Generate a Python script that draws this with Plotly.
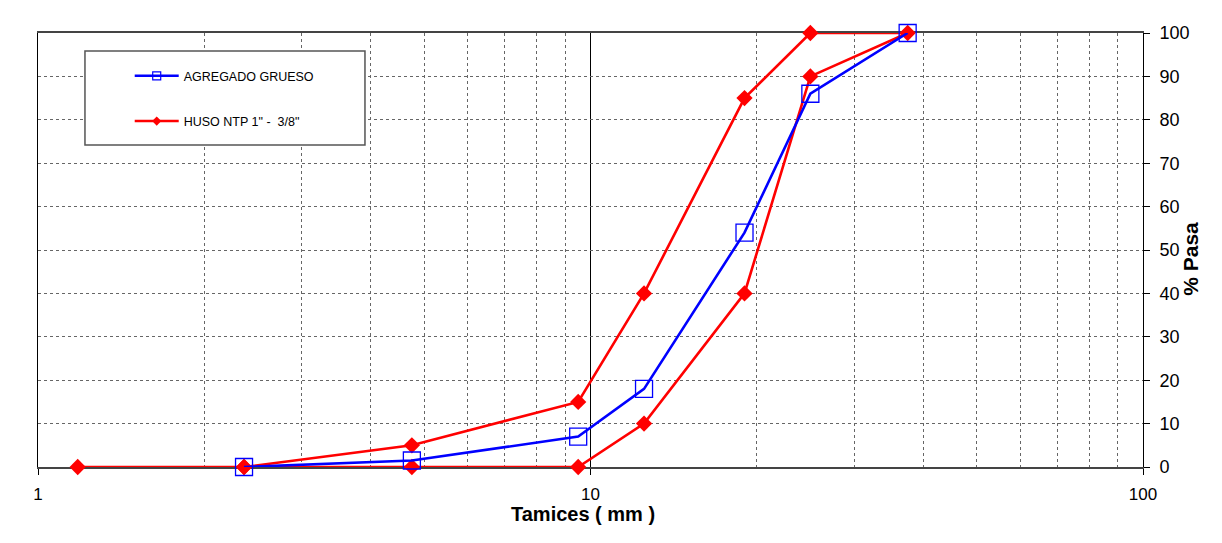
import plotly.graph_objects as go

# Tamaños de tamiz (mm) y porcentajes que pasan
tamiz_agregado = [2.36, 4.75, 9.5, 12.5, 19.0, 25.0, 37.5]
pasa_agregado = [0, 1.5, 7, 18, 54, 86, 100]

# Huso NTP 1" - 3/8": límite inferior seguido del límite superior
tamiz_huso = [1.18, 2.36, 4.75, 9.5, 12.5, 19.0, 25.0, 37.5, 25.0, 19.0, 12.5, 9.5, 4.75, 2.36]
pasa_huso = [0, 0, 0, 0, 10, 40, 90, 100, 100, 85, 40, 15, 5, 0]

x_major = [1, 10, 100]
x_minor = [2, 3, 4, 5, 6, 7, 8, 9, 20, 30, 40, 50, 60, 70, 80, 90]
y_ticks = list(range(0, 101, 10))

nombre_agregado = "AGREGADO GRUESO"
nombre_huso = 'HUSO NTP 1" -  3/8"'

BLUE = "#0000FF"
RED = "#FF0000"

fig = go.Figure()

fig.add_trace(go.Scatter(
    x=tamiz_huso, y=pasa_huso, mode="lines+markers",
    line=dict(color=RED, width=2.6),
    marker=dict(symbol="diamond", size=12.5, color=RED),
    cliponaxis=False, showlegend=False,
))
fig.add_trace(go.Scatter(
    x=tamiz_agregado, y=pasa_agregado, mode="lines+markers",
    line=dict(color=BLUE, width=2.6),
    marker=dict(symbol="square-open", size=17, color=BLUE, line=dict(width=1.3)),
    cliponaxis=False, showlegend=False,
))

# Entradas de leyenda con marcadores pequeños
fig.add_trace(go.Scatter(
    x=[None], y=[None], mode="lines+markers", name=nombre_agregado,
    line=dict(color=BLUE, width=2.5),
    marker=dict(symbol="square-open", size=8, color=BLUE, line=dict(width=1.2)),
    legendgroup="a",
))
fig.add_trace(go.Scatter(
    x=[None], y=[None], mode="lines+markers", name=nombre_huso,
    line=dict(color=RED, width=2.5),
    marker=dict(symbol="diamond", size=7, color=RED),
    legendgroup="b",
))

# Marco de la leyenda
fig.add_shape(
    type="rect", xref="paper", yref="paper",
    x0=0.0425, x1=0.2959, y0=0.742, y1=0.9585,
    line=dict(color="#555555", width=1.5), fillcolor="white", layer="above",
)

# Títulos de los ejes
fig.add_annotation(
    text="<b>Tamices ( mm )</b>", xref="paper", yref="paper",
    x=0.4932, y=-0.1083, xanchor="center", yanchor="middle",
    showarrow=False, font=dict(size=20, color="black"),
)
fig.add_annotation(
    text="<b>% Pasa</b>", xref="paper", yref="paper",
    x=1.0435, y=0.48, xanchor="center", yanchor="middle",
    textangle=-90, showarrow=False, font=dict(size=21, color="black"),
)

fig.update_layout(
    width=1222, height=543,
    margin=dict(l=38, r=79, t=33, b=76),
    paper_bgcolor="white", plot_bgcolor="white",
    font=dict(family="Liberation Sans, Arial, sans-serif", color="black"),
    legend=dict(
        x=0.083, y=0.935, xanchor="left", yanchor="top",
        bgcolor="rgba(0,0,0,0)", borderwidth=0,
        font=dict(size=12.5, color="black"),
        tracegroupgap=26, itemwidth=44,
    ),
    xaxis=dict(
        type="log", range=[0, 2],
        tickvals=x_major, ticktext=[str(v) for v in x_major],
        ticks="outside", ticklen=6, tickcolor="black",
        tickfont=dict(size=17), ticklabelstandoff=5,
        showgrid=True, gridcolor="black", gridwidth=1,
        minor=dict(tickvals=x_minor, showgrid=True, gridcolor="#666666",
                   griddash="dot", gridwidth=1, ticks=""),
        showline=True, linecolor="#444444", linewidth=2, mirror=True,
        layer="below traces", zeroline=False,
    ),
    yaxis=dict(
        side="right", range=[0, 100],
        tickvals=y_ticks, ticks="outside", ticklen=6, tickcolor="black",
        tickfont=dict(size=18), ticklabelstandoff=6,
        showgrid=True, gridcolor="#666666", griddash="dot", gridwidth=1,
        showline=True, linecolor="black", linewidth=1, mirror=True,
        layer="below traces", zeroline=False,
    ),
)

fig.write_html("out.html")
